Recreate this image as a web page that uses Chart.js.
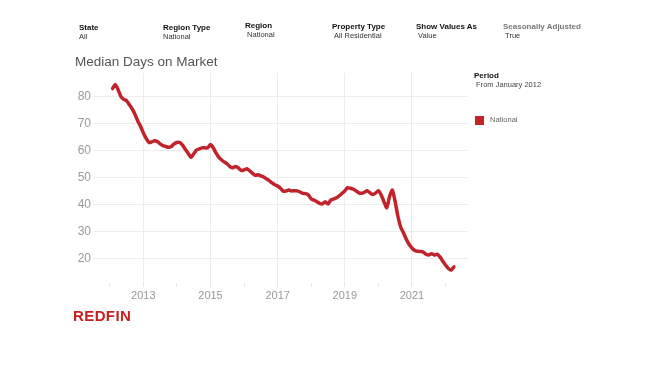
<!DOCTYPE html>
<html>
<head>
<meta charset="utf-8">
<script src="https://cdn.jsdelivr.net/npm/chart.js@4.4.1/dist/chart.umd.min.js"></script>
<style>
  body { margin: 0; background: #fff; font-family: "Liberation Sans", Arial, sans-serif; }
  #wrap { position: relative; width: 664px; height: 376px; overflow: hidden; }
  #chart { position: absolute; left: 0; top: 0; }
  .f { position: absolute; font-size: 7.5px; line-height: 9px; color: #333; white-space: nowrap; }
  .f b { display: block; font-size: 8px; color: #111; }
  .f.gray b { color: #777; }
  #title { position: absolute; left: 75px; top: 54px; font-size: 13.5px; color: #555; }
  #period { position: absolute; left: 474px; top: 71px; font-size: 7.5px; line-height: 9px; color: #444; }
  #period b { display: block; font-size: 8px; color: #111; }
  #legend { position: absolute; left: 475px; top: 115px; font-size: 7.5px; color: #666; }
  #legend span { display: inline-block; width: 9px; height: 9px; background: #c4232a; vertical-align: middle; margin-right: 6px; }
  #logo { position: absolute; left: 73px; top: 307px; font-size: 15px; font-weight: bold; color: #c82021; letter-spacing: 0.4px; }
</style>
</head>
<body>
<div id="wrap">
  <canvas id="chart" width="664" height="376"></canvas>
  <div class="f" style="left:79px;top:23px"><b>State</b>All</div>
  <div class="f" style="left:163px;top:23px"><b>Region Type</b>National</div>
  <div class="f" style="left:245px;top:21px"><b>Region</b>&nbsp;National</div>
  <div class="f" style="left:332px;top:22px"><b>Property Type</b>&nbsp;All Residential</div>
  <div class="f" style="left:416px;top:22px"><b>Show Values As</b>&nbsp;Value</div>
  <div class="f gray" style="left:503px;top:22px"><b>Seasonally Adjusted</b>&nbsp;True</div>
  <div id="title">Median Days on Market</div>
  <div id="period"><b>Period</b>&nbsp;From January 2012</div>
  <div id="legend"><span></span>National</div>
  <div id="logo">REDFIN</div>
</div>
<script>
// monthly series, first value is February 2012
const firstYear = 2012;
const firstMonth = 2;
const medianDays = [
  83, 84.5, 82.5, 80, 79, 78.5, 77, 75.5, 73.5, 71, 69,
  66.5, 64.5, 63, 63.2, 63.6, 63.3, 62.5, 61.8, 61.5, 61.2, 61.5, 62.5,
  63, 63, 62, 60.5, 59, 57.5, 58.8, 60.2, 60.6, 61, 61, 61,
  62.2, 61, 59, 57.5, 56.5, 55.7, 55, 54, 53.6, 54.1, 53.5, 52.6,
  52.8, 53.2, 52.5, 51.5, 50.8, 51, 50.6, 50.2, 49.5, 48.8, 48, 47.3,
  46.8, 46, 44.9, 45, 45.3, 45, 45.1, 45, 44.6, 44.1, 44, 43.5,
  42, 41.6, 41, 40.4, 40.2, 41, 40.1, 41.6, 42, 42.5, 43.2, 44.1,
  45, 46.2, 46, 45.7, 45, 44.3, 44.1, 44.5, 45.1, 44.3, 43.7, 44.2,
  45.1, 43.5, 41, 38.8, 42.9, 45.3, 41, 35.5, 31.5, 29.4, 27, 25.1,
  23.8, 22.9, 22.6, 22.5, 22.3, 21.5, 21.2, 21.7, 21.2, 21.5, 20.5, 19,
  17.5, 16.2, 15.6, 16.8
];
const tickYears = [2012, 2013, 2014, 2015, 2016, 2017, 2018, 2019, 2020, 2021, 2022];
const yTicks = [20, 30, 40, 50, 60, 70, 80];

const points = medianDays.map((v, i) => ({
  x: firstYear + (firstMonth - 1 + i) / 12,
  y: v
}));

const ctx = document.getElementById('chart').getContext('2d');
new Chart(ctx, {
  type: 'line',
  data: {
    datasets: [{
      label: 'National',
      data: points,
      borderColor: '#c1232b',
      borderWidth: 3.5,
      pointRadius: 0,
      tension: 0.2,
      borderCapStyle: 'round',
      borderJoinStyle: 'round'
    }]
  },
  options: {
    responsive: false,
    animation: false,
    layout: { padding: { left: 63, right: 196, top: 73, bottom: 0 } },
    plugins: { legend: { display: false }, tooltip: { enabled: false } },
    scales: {
      x: {
        type: 'linear',
        min: 2011.5,
        max: 2022.67,
        afterBuildTicks: s => { s.ticks = tickYears.map(v => ({ value: v })); },
        afterFit: s => { s.height = 93; },
        border: { display: false },
        grid: {
          color: c => (c.tick && c.tick.value % 2 === 1) ? '#ececec' : 'rgba(0,0,0,0)',
          tickColor: '#e6e6e6',
          tickLength: 4
        },
        ticks: {
          padding: 2,
          maxRotation: 0,
          autoSkip: false,
          color: '#999',
          font: { family: 'Liberation Sans', size: 11 },
          callback: v => (v % 2 === 1 ? String(v) : '')
        }
      },
      y: {
        min: 10.8,
        max: 88.8,
        afterBuildTicks: s => { s.ticks = yTicks.map(v => ({ value: v })); },
        afterFit: s => { s.width = 30; },
        border: { display: false },
        grid: { color: '#ececec', drawTicks: false },
        ticks: {
          padding: 2,
          color: '#999',
          font: { family: 'Liberation Sans', size: 12 }
        }
      }
    }
  }
});
</script>
</body>
</html>
